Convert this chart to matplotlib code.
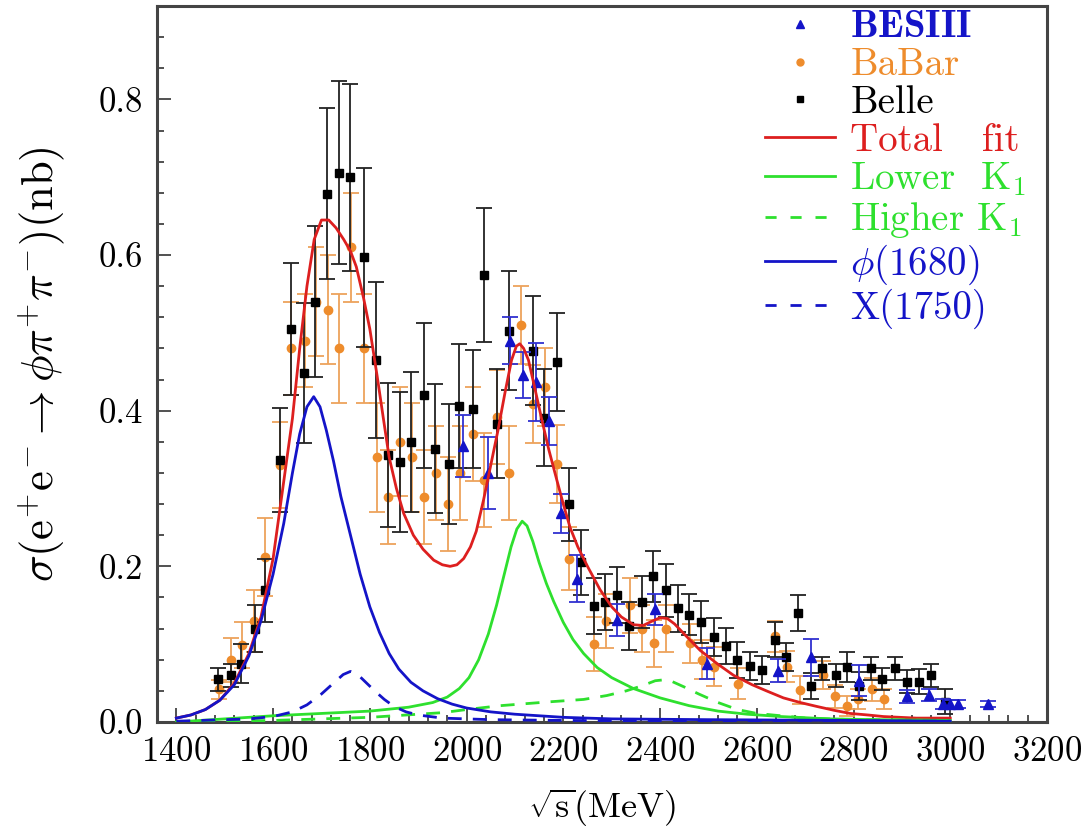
import matplotlib
matplotlib.use("Agg")
import matplotlib.pyplot as plt
from matplotlib.lines import Line2D
from matplotlib.ticker import MultipleLocator

# Computer Modern style text
plt.rcParams['font.family'] = ['cmr10', 'DejaVu Serif']
plt.rcParams['mathtext.fontset'] = 'cm'
plt.rcParams['axes.formatter.use_mathtext'] = True

# ---- data ----
belle_x = [1487, 1512, 1534, 1562, 1584, 1614, 1636, 1663, 1687, 1711, 1737, 1760, 1788,
           1812, 1838, 1862, 1886, 1911, 1935, 1963, 1985, 2013, 2037, 2063, 2087, 2137,
           2161, 2187, 2211, 2237, 2263, 2286, 2311, 2335, 2362, 2385, 2412, 2437, 2459,
           2485, 2511, 2537, 2560, 2587, 2611, 2638, 2661, 2686, 2712, 2734, 2763, 2786,
           2812, 2836, 2859, 2886, 2910, 2936, 2960, 2989]
belle_y = [0.055, 0.060, 0.075, 0.120, 0.169, 0.337, 0.505, 0.449, 0.540, 0.679, 0.706, 0.700,
           0.597, 0.465, 0.343, 0.334, 0.360, 0.420, 0.351, 0.331, 0.406, 0.402, 0.574, 0.383,
           0.503, 0.477, 0.391, 0.462, 0.280, 0.205, 0.149, 0.154, 0.163, 0.123, 0.154, 0.187,
           0.169, 0.146, 0.138, 0.129, 0.109, 0.098, 0.080, 0.072, 0.067, 0.106, 0.083, 0.140,
           0.046, 0.069, 0.060, 0.071, 0.046, 0.069, 0.055, 0.069, 0.052, 0.052, 0.060, 0.026]
belle_err = [0.015, 0.015, 0.025, 0.030, 0.040, 0.067, 0.085, 0.090, 0.097, 0.110, 0.117, 0.120,
             0.115, 0.100, 0.093, 0.090, 0.090, 0.093, 0.083, 0.077, 0.080, 0.076, 0.086, 0.070,
             0.076, 0.070, 0.062, 0.063, 0.047, 0.042, 0.036, 0.036, 0.036, 0.031, 0.033, 0.033,
             0.034, 0.030, 0.026, 0.027, 0.024, 0.023, 0.023, 0.018, 0.018, 0.023, 0.018, 0.023,
             0.017, 0.015, 0.015, 0.019, 0.018, 0.015, 0.014, 0.015, 0.015, 0.016, 0.015, 0.016]

babar_x = [1489, 1512, 1536, 1560, 1584, 1614, 1638, 1665, 1689, 1713, 1737, 1762, 1788,
           1815, 1838, 1862, 1887, 1911, 1937, 1962, 1987, 2013, 2037, 2063, 2087, 2112,
           2137, 2163, 2187, 2211, 2263, 2289, 2338, 2362, 2387, 2412, 2462, 2486, 2511,
           2562, 2638, 2662, 2690, 2737, 2762, 2786, 2810, 2838, 2862]
babar_y = [0.042, 0.080, 0.099, 0.130, 0.212, 0.330, 0.480, 0.490, 0.540, 0.530, 0.480, 0.610,
           0.480, 0.340, 0.289, 0.360, 0.340, 0.289, 0.320, 0.280, 0.320, 0.370, 0.311, 0.392,
           0.320, 0.510, 0.409, 0.430, 0.331, 0.210, 0.100, 0.130, 0.150, 0.120, 0.101, 0.120,
           0.101, 0.080, 0.071, 0.049, 0.110, 0.071, 0.041, 0.060, 0.033, 0.021, 0.030, 0.042,
           0.030]
babar_err = [0.012, 0.028, 0.030, 0.040, 0.050, 0.055, 0.060, 0.060, 0.070, 0.070, 0.070, 0.070,
             0.070, 0.070, 0.060, 0.070, 0.070, 0.060, 0.060, 0.060, 0.060, 0.060, 0.060, 0.060,
             0.060, 0.050, 0.050, 0.050, 0.050, 0.040, 0.035, 0.035, 0.035, 0.030, 0.030, 0.030,
             0.025, 0.025, 0.025, 0.020, 0.020, 0.020, 0.018, 0.018, 0.015, 0.013, 0.013, 0.015,
             0.013]

bes_x = [1993, 2045, 2090, 2116, 2144, 2170, 2195, 2228, 2311, 2389, 2498, 2643, 2713,
         2811, 2910, 2957, 2985, 3000, 3017, 3079]
bes_y = [0.355, 0.320, 0.490, 0.446, 0.437, 0.387, 0.268, 0.184, 0.131, 0.145, 0.075, 0.066,
         0.083, 0.053, 0.033, 0.035, 0.023, 0.023, 0.023, 0.023]
bes_err = [0.040, 0.046, 0.030, 0.030, 0.050, 0.031, 0.025, 0.030, 0.020, 0.020, 0.020, 0.015,
           0.024, 0.020, 0.008, 0.008, 0.006, 0.005, 0.005, 0.004]

# fit curves
total_x = [1400, 1430, 1460, 1490, 1520, 1550, 1575, 1600, 1620, 1640, 1655, 1670, 1685, 1700,
           1715, 1730, 1746, 1760, 1772, 1787, 1800, 1815, 1828, 1840, 1855, 1870, 1890, 1910,
           1932, 1950, 1966, 1980, 1994, 2008, 2020, 2035, 2050, 2065, 2080, 2093, 2103, 2110,
           2118, 2128, 2140, 2155, 2170, 2187, 2200, 2214, 2230, 2250, 2276, 2300, 2320, 2345,
           2365, 2385, 2400, 2415, 2430, 2450, 2483, 2518, 2552, 2590, 2620, 2655, 2690, 2724,
           2760, 2793, 2830, 2862, 2930, 3000]
total_y = [0.005, 0.009, 0.016, 0.028, 0.050, 0.088, 0.135, 0.210, 0.300, 0.390, 0.480, 0.560,
           0.620, 0.645, 0.645, 0.635, 0.620, 0.605, 0.585, 0.545, 0.505, 0.445, 0.390, 0.340,
           0.300, 0.268, 0.240, 0.222, 0.208, 0.202, 0.200, 0.202, 0.210, 0.225, 0.245, 0.285,
           0.330, 0.375, 0.425, 0.465, 0.483, 0.486, 0.480, 0.465, 0.432, 0.390, 0.350, 0.310,
           0.280, 0.250, 0.225, 0.200, 0.170, 0.148, 0.135, 0.125, 0.124, 0.130, 0.134, 0.133,
           0.126, 0.113, 0.092, 0.075, 0.060, 0.048, 0.040, 0.031, 0.025, 0.020, 0.015, 0.011,
           0.009, 0.007, 0.005, 0.005]

phi_x = [1400, 1430, 1460, 1490, 1520, 1550, 1575, 1600, 1622, 1640, 1655, 1670, 1684, 1697,
         1710, 1725, 1740, 1760, 1780, 1800, 1820, 1840, 1860, 1885, 1910, 1940, 1970, 2000,
         2050, 2100, 2200, 2300, 2500, 2800, 3000]
phi_y = [0.005, 0.009, 0.016, 0.028, 0.048, 0.085, 0.130, 0.190, 0.255, 0.320, 0.370, 0.405,
         0.418, 0.405, 0.375, 0.335, 0.290, 0.240, 0.190, 0.148, 0.115, 0.088, 0.068, 0.051,
         0.040, 0.030, 0.023, 0.018, 0.013, 0.010, 0.006, 0.004, 0.003, 0.002, 0.001]

x1750_x = [1400, 1550, 1600, 1640, 1670, 1700, 1725, 1745, 1760, 1775, 1790, 1810, 1830, 1850,
           1875, 1900, 1950, 2050, 2200, 2500, 3000]
x1750_y = [0.001, 0.004, 0.007, 0.013, 0.022, 0.036, 0.050, 0.061, 0.065, 0.061, 0.052, 0.040,
           0.029, 0.020, 0.013, 0.009, 0.005, 0.003, 0.002, 0.001, 0.001]

lowk_x = [1400, 1500, 1600, 1700, 1800, 1880, 1930, 1960, 1985, 2005, 2025, 2045, 2062, 2078,
          2092, 2104, 2115, 2125, 2137, 2150, 2165, 2180, 2200, 2220, 2242, 2270, 2300, 2345,
          2400, 2460, 2520, 2580, 2650, 2750, 2850, 3000]
lowk_y = [0.000, 0.004, 0.008, 0.011, 0.014, 0.019, 0.025, 0.032, 0.043, 0.057, 0.080, 0.113,
          0.150, 0.190, 0.225, 0.248, 0.258, 0.252, 0.232, 0.205, 0.178, 0.155, 0.128, 0.106,
          0.088, 0.070, 0.057, 0.043, 0.031, 0.021, 0.014, 0.010, 0.007, 0.004, 0.003, 0.002]

highk_x = [1400, 1600, 1800, 1950, 2000, 2070, 2173, 2242, 2290, 2330, 2365, 2390, 2405, 2425,
           2450, 2480, 2520, 2560, 2600, 2650, 2700, 2800, 3000]
highk_y = [0.000, 0.002, 0.006, 0.012, 0.016, 0.021, 0.026, 0.029, 0.034, 0.040, 0.047, 0.053,
           0.054, 0.052, 0.045, 0.036, 0.025, 0.016, 0.011, 0.008, 0.005, 0.003, 0.002]

RED = '#dd1f1f'
GREEN = '#2ee02e'
BLUE = '#1414c8'
ORANGE = '#ee8c2c'

fig = plt.figure(figsize=(10.89, 8.36), dpi=100)
ax = fig.add_axes([157/1089, 114/836, 890/1089, 716/836])

# data points
ax.errorbar(babar_x, babar_y, yerr=babar_err, fmt='o', ms=6, color=ORANGE,
            ecolor='#eda35c', elinewidth=1.3, capsize=6, capthick=1.3, zorder=2)
ax.errorbar(belle_x, belle_y, yerr=belle_err, fmt='s', ms=6, color='black',
            ecolor='#222222', elinewidth=1.3, capsize=6, capthick=1.3, zorder=3)
ax.errorbar(bes_x, bes_y, yerr=bes_err, fmt='^', ms=7, color=BLUE,
            ecolor='#3030d0', elinewidth=1.3, capsize=6, capthick=1.3, zorder=4)

# fit curves
lw = 2.0
dash = (0, (5, 4))
ax.plot(total_x, total_y, color=RED, lw=lw, zorder=5)
ax.plot(lowk_x, lowk_y, color=GREEN, lw=lw, zorder=5)
ax.plot(highk_x, highk_y, color=GREEN, lw=lw, ls=dash, zorder=5)
ax.plot(phi_x, phi_y, color=BLUE, lw=lw, zorder=5)
ax.plot(x1750_x, x1750_y, color=BLUE, lw=lw, ls=dash, zorder=5)

ax.set_xlim(1360, 3200)
ax.set_ylim(0, 0.92)
ax.xaxis.set_major_locator(MultipleLocator(200))
ax.xaxis.set_minor_locator(MultipleLocator(40))
ax.yaxis.set_major_locator(MultipleLocator(0.2))
ax.yaxis.set_minor_locator(MultipleLocator(0.04))
ax.tick_params(which='both', direction='in', top=False, right=False, width=1.2, color='#333333')
ax.tick_params(which='major', length=10, labelsize=25, pad=10)
ax.tick_params(which='minor', length=5)
for s in ax.spines.values():
    s.set_linewidth(2.2)
    s.set_color('#444444')
ax.yaxis.set_major_formatter(plt.FuncFormatter(lambda v, p: f'{v:.1f}'))

ax.set_xlabel(r'$\sqrt{\mathrm{s}}$(MeV)', fontsize=26, labelpad=14)
ax.set_ylabel(r'$\sigma(\mathrm{e}^{+}\mathrm{e}^{-}\rightarrow\phi\pi^{+}\pi^{-})(\mathrm{nb})$',
              fontsize=32, labelpad=22)

# legend
leg_handles = [
    Line2D([], [], ls='none', marker='^', ms=6, color=BLUE),
    Line2D([], [], ls='none', marker='o', ms=5, color=ORANGE),
    Line2D([], [], ls='none', marker='s', ms=5, color='black'),
    Line2D([], [], color=RED, lw=lw),
    Line2D([], [], color=GREEN, lw=lw),
    Line2D([], [], color=GREEN, lw=lw, ls=(0, (4, 5))),
    Line2D([], [], color=BLUE, lw=lw),
    Line2D([], [], color=BLUE, lw=lw, ls=(0, (4, 5))),
]
leg_labels = [r'$\mathbf{BESIII}$', 'BaBar', 'Belle', 'Total   fit', 'Lower  K$_1$',
              'Higher K$_1$', r'$\phi$(1680)', 'X(1750)']
ax.legend(leg_handles, leg_labels, loc='upper left', bbox_to_anchor=(0.683, 0.995),
          frameon=False, fontsize=28, borderpad=0, borderaxespad=0, handlelength=1.8,
          handletextpad=0.4, labelspacing=0.05,
          labelcolor=[BLUE, ORANGE, 'black', RED, GREEN, GREEN, BLUE, BLUE])

fig.savefig('out.png', dpi=100)
